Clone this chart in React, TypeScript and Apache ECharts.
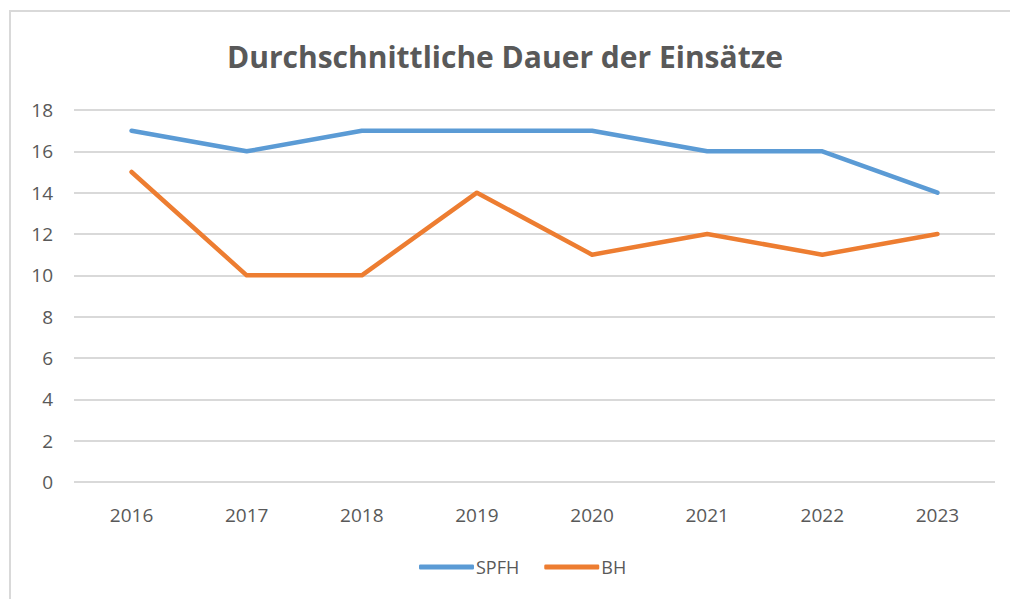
import React, { useEffect, useRef } from "react";
import * as echarts from "echarts";

const categories = ["2016", "2017", "2018", "2019", "2020", "2021", "2022", "2023"];
const spfh = [17, 16, 17, 17, 17, 16, 16, 14];
const bh = [15, 10, 10, 14, 11, 12, 11, 12];
const titleText = "Durchschnittliche Dauer der Einsätze";

export default function App() {
  const ref = useRef<HTMLDivElement>(null);
  useEffect(() => {
    if (!ref.current) return;
    const chart = echarts.init(ref.current, null, { renderer: "svg" });
    const font = "'Open Sans', Lato, sans-serif";
    chart.setOption({
      animation: false,
      backgroundColor: "#ffffff",
      title: {
        text: titleText,
        left: "center",
        top: 36,
        textStyle: { fontFamily: font, fontSize: 30, fontWeight: "bold", color: "#595959" },
      },
      graphic: [
        {
          type: "rect",
          shape: { x: 10, y: 11, width: 1100, height: 700 },
          style: { fill: "none", stroke: "#d9d9d9", lineWidth: 2 },
          silent: true,
        },
      ],
      legend: {
        left: 414,
        top: 553,
        icon: "roundRect",
        itemWidth: 55,
        itemHeight: 5,
        itemGap: 25,
        textStyle: { fontFamily: font, fontSize: 18, color: "#595959", padding: [0, 0, 0, -3] },
        data: ["SPFH", "BH"],
      },
      grid: { left: 74, right: 15, top: 110, bottom: 117 },
      xAxis: {
        type: "category",
        data: categories,
        boundaryGap: true,
        axisLine: { show: false },
        axisTick: { show: false },
        axisLabel: { margin: 23, fontFamily: font, fontSize: 19, color: "#595959" },
      },
      yAxis: {
        type: "value",
        min: 0,
        max: 18,
        interval: 2,
        axisLine: { show: false },
        axisTick: { show: false },
        axisLabel: { margin: 21, fontFamily: font, fontSize: 19, color: "#595959" },
        splitLine: { lineStyle: { color: "#d9d9d9", width: 2 } },
      },
      series: [
        {
          name: "SPFH",
          type: "line",
          data: spfh,
          symbol: "none",
          color: "#5B9BD5",
          lineStyle: { width: 4.5, color: "#5B9BD5", cap: "round", join: "round" },
        },
        {
          name: "BH",
          type: "line",
          data: bh,
          symbol: "none",
          color: "#ED7D31",
          lineStyle: { width: 4.5, color: "#ED7D31", cap: "round", join: "round" },
        },
      ],
    });
    return () => chart.dispose();
  }, []);
  return (
    <div
      ref={ref}
      style={{ position: "fixed", left: 0, top: 0, width: 1010, height: 599 }}
    />
  );
}
